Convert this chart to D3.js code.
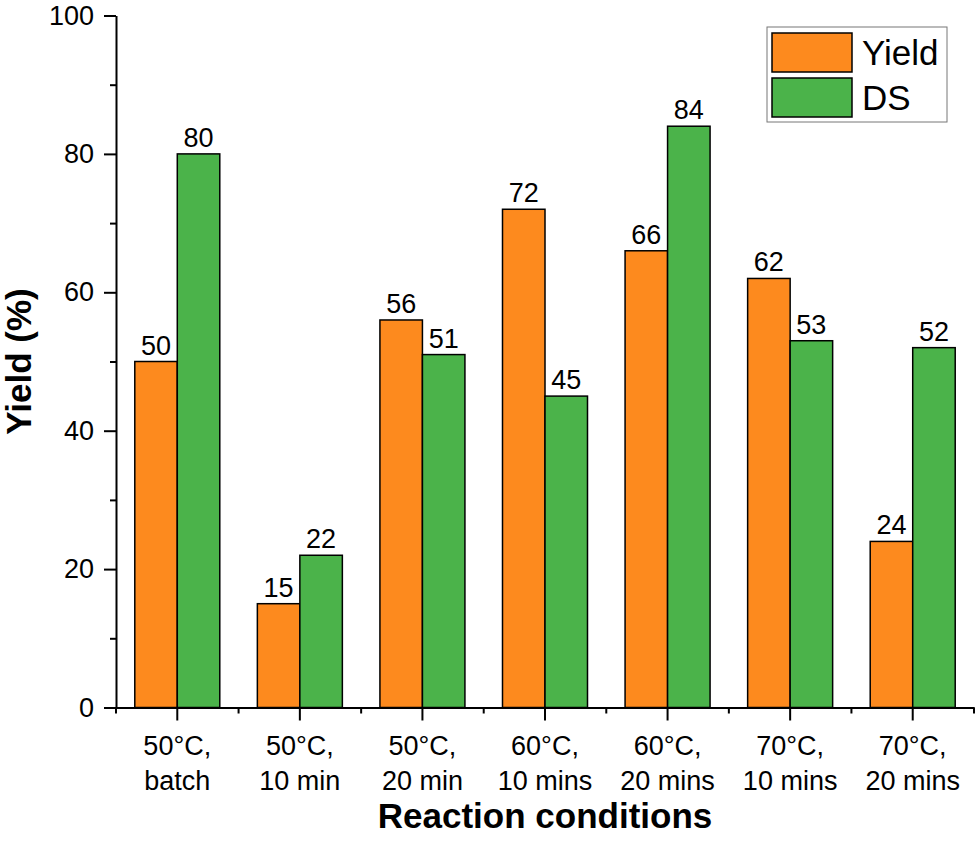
<!DOCTYPE html>
<html>
<head>
<meta charset="utf-8">
<script src="https://cdn.jsdelivr.net/npm/d3@7"></script>
<style>
body{margin:0;background:#fff}
text{font-family:"Liberation Sans",Arial,sans-serif;fill:#000}
</style>
</head>
<body>
<div id="chart"></div>
<script>
const categories=[['50°C,','batch'],['50°C,','10 min'],['50°C,','20 min'],['60°C,','10 mins'],['60°C,','20 mins'],['70°C,','10 mins'],['70°C,','20 mins']]
const seriesNames=['Yield','DS']
const yieldValues=[50,15,56,72,66,62,24]
const dsValues=[80,22,51,45,84,53,52]
const yTicks=[0,20,40,60,80,100]
const yMinorTicks=[10,30,50,70,90]

const colors={Yield:'#fd8a1e',DS:'#4bb34a'}
const W=979,H=851
const margin={top:15.5,right:5,bottom:143.5,left:116}

const data=categories.map((c,i)=>({key:c.join(' '),lines:c,Yield:yieldValues[i],DS:dsValues[i]}))

const svg=d3.select('#chart').append('svg')
	.attr('width',W)
	.attr('height',H)

const x0=d3.scaleBand()
	.domain(data.map(d=>d.key))
	.range([margin.left,W-margin.right])
	.padding(0)

const x1=d3.scaleBand()
	.domain(seriesNames)
	.range([0,x0.bandwidth()])
	.paddingInner(0)
	.paddingOuter(0.442)

const y=d3.scaleLinear()
	.domain([0,100])
	.range([H-margin.bottom,margin.top])

// bars
const groups=svg.append('g').selectAll('g')
	.data(data)
	.join('g')
	.attr('transform',d=>`translate(${x0(d.key)},0)`)

groups.selectAll('rect')
	.data(d=>seriesNames.map(k=>({k,v:d[k]})))
	.join('rect')
	.attr('x',d=>x1(d.k))
	.attr('y',d=>y(d.v))
	.attr('width',x1.bandwidth())
	.attr('height',d=>y(0)-y(d.v))
	.attr('fill',d=>colors[d.k])
	.attr('stroke','#000')
	.attr('stroke-width',1.5)

groups.selectAll('text.val')
	.data(d=>seriesNames.map(k=>({k,v:d[k]})))
	.join('text')
	.attr('class','val')
	.attr('x',d=>x1(d.k)+x1.bandwidth()/2)
	.attr('y',d=>y(d.v)-7)
	.attr('text-anchor','middle')
	.style('font-size','27px')
	.text(d=>d.v)

// y axis
const yAxis=svg.append('g')
	.attr('transform',`translate(${margin.left},0)`)
	.call(d3.axisLeft(y).tickValues(yTicks).tickSize(12).tickSizeOuter(0).tickPadding(10))
yAxis.selectAll('text').style('font-size','27px').attr('fill','#000')
yAxis.selectAll('path,line').attr('stroke','#000').attr('stroke-width',2)

const yMinor=svg.append('g')
	.attr('transform',`translate(${margin.left},0)`)
	.call(d3.axisLeft(y).tickValues(yMinorTicks).tickSize(6).tickSizeOuter(0).tickFormat(''))
yMinor.select('.domain').remove()
yMinor.selectAll('line').attr('stroke','#000').attr('stroke-width',2)

// x axis
const xAxis=svg.append('g')
	.attr('transform',`translate(0,${y(0)})`)
	.call(d3.axisBottom(x0).tickSize(13).tickSizeOuter(0).tickFormat(''))
xAxis.selectAll('path,line').attr('stroke','#000').attr('stroke-width',2)

const bounds=data.map(d=>x0(d.key)).concat([x0(data[data.length-1].key)+x0.step()])
xAxis.selectAll('line.minor')
	.data(bounds)
	.join('line')
	.attr('class','minor')
	.attr('x1',d=>d).attr('x2',d=>d)
	.attr('y1',0).attr('y2',6)
	.attr('stroke','#000').attr('stroke-width',2)

const xLabels=xAxis.selectAll('text.cat')
	.data(data)
	.join('text')
	.attr('class','cat')
	.attr('x',d=>x0(d.key)+x0.bandwidth()/2)
	.attr('text-anchor','middle')
	.style('font-size','27px')
xLabels.selectAll('tspan')
	.data(d=>d.lines)
	.join('tspan')
	.attr('x',function(){return this.parentNode.getAttribute('x')})
	.attr('y',(d,i)=>47.5+i*35)
	.text(d=>d)

// axis titles
svg.append('text')
	.attr('x',(margin.left+W-margin.right)/2)
	.attr('y',828)
	.attr('text-anchor','middle')
	.style('font-size','35px')
	.style('font-weight','bold')
	.text('Reaction conditions')

svg.append('text')
	.attr('transform',`translate(31,${(y(0)+y(100))/2}) rotate(-90)`)
	.attr('text-anchor','middle')
	.style('font-size','35px')
	.style('font-weight','bold')
	.text('Yield (%)')

// legend
const legend=svg.append('g')
	.attr('transform','translate(767,27)')
legend.append('rect')
	.attr('width',180).attr('height',95)
	.attr('fill','#fff')
	.attr('stroke','#777').attr('stroke-width',1)
const items=legend.selectAll('g.item')
	.data(seriesNames)
	.join('g')
	.attr('class','item')
	.attr('transform',(d,i)=>`translate(5,${6+i*45})`)
items.append('rect')
	.attr('width',80).attr('height',39)
	.attr('fill',d=>colors[d])
	.attr('stroke','#000').attr('stroke-width',1.5)
items.append('text')
	.attr('x',90)
	.attr('y',32)
	.style('font-size','35px')
	.text(d=>d)
</script>
</body>
</html>
